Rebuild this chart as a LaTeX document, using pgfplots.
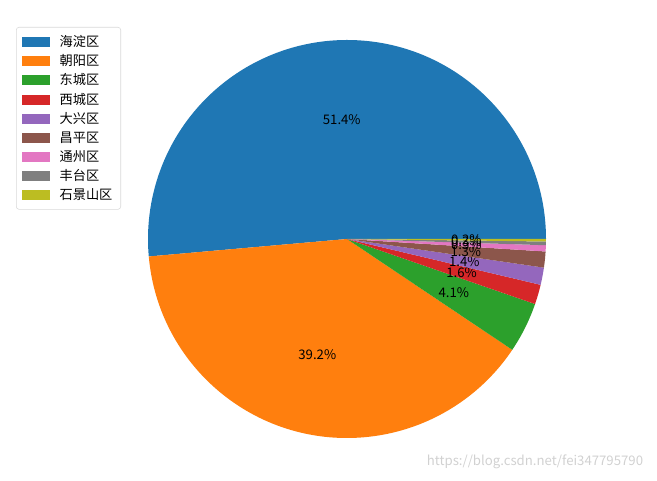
\documentclass[border=0pt]{standalone}
\usepackage{pgfplots}
\pgfplotsset{compat=1.18}
\usepackage{fontspec}
\setmainfont{Noto Sans CJK SC}

\definecolor{c1}{HTML}{1F77B4}
\definecolor{c2}{HTML}{FF7F0E}
\definecolor{c3}{HTML}{2CA02C}
\definecolor{c4}{HTML}{D62728}
\definecolor{c5}{HTML}{9467BD}
\definecolor{c6}{HTML}{8C564B}
\definecolor{c7}{HTML}{E377C2}
\definecolor{c8}{HTML}{7F7F7F}
\definecolor{c9}{HTML}{BCBD22}

% 1 unit = 143.28pt (pie radius)
\newcommand\R{143.28pt}

\begin{document}
\begin{tikzpicture}
\begin{axis}[
  width=473.04pt, height=345.6pt, scale only axis,
  xmin=-1.7437, xmax=1.5578,
  ymin=-1.2111, ymax=1.2010,
  hide axis, clip=false,
  legend style={at={(16/657,1-27/480)}, anchor=north west,
    draw=black!15, rounded corners=2pt, font=\fontsize{9.5}{11}\selectfont,
    row sep=0.4pt, inner xsep=4pt, inner ysep=3.5pt},
  legend cell align=left,
  legend image code/.code={\fill[#1,draw=none,sharp corners] (0pt,-3.6pt) rectangle (20pt,3.6pt);
    \path (25pt,0pt);},
]
\path (rel axis cs:0,0) (rel axis cs:1,1);
\addlegendimage{fill=c1}\addlegendentry{海淀区}
\addlegendimage{fill=c2}\addlegendentry{朝阳区}
\addlegendimage{fill=c3}\addlegendentry{东城区}
\addlegendimage{fill=c4}\addlegendentry{西城区}
\addlegendimage{fill=c5}\addlegendentry{大兴区}
\addlegendimage{fill=c6}\addlegendentry{昌平区}
\addlegendimage{fill=c7}\addlegendentry{通州区}
\addlegendimage{fill=c8}\addlegendentry{丰台区}
\addlegendimage{fill=c9}\addlegendentry{石景山区}

\pgfplotsextra{
  \gdef\s{0}
  \foreach \v/\c in {51.4/c1, 39.2/c2, 4.1/c3, 1.6/c4, 1.4/c5,
                     1.3/c6, 0.5/c7, 0.3/c8, 0.2/c9} {
    \pgfmathsetmacro\e{\s+3.6*\v}
    \pgfmathsetmacro\m{(\s+\e)/2}
    \fill[\c] (axis cs:0,0) -- (axis cs:{cos(\s)},{sin(\s)})
      arc[start angle=\s, end angle=\e, radius=\R] -- cycle;
    \node[font=\fontsize{9.5}{11}\selectfont] at (axis cs:{0.6*cos(\m)},{0.6*sin(\m)}) {\v\%};
    \global\let\s\e
  }
}
\node[anchor=east, text=black!18, font=\fontsize{9.5}{11}\selectfont]
  at (rel axis cs:648/657,1-462/480) {https://blog.csdn.net/fei347795790};
\end{axis}
\end{tikzpicture}
\end{document}
